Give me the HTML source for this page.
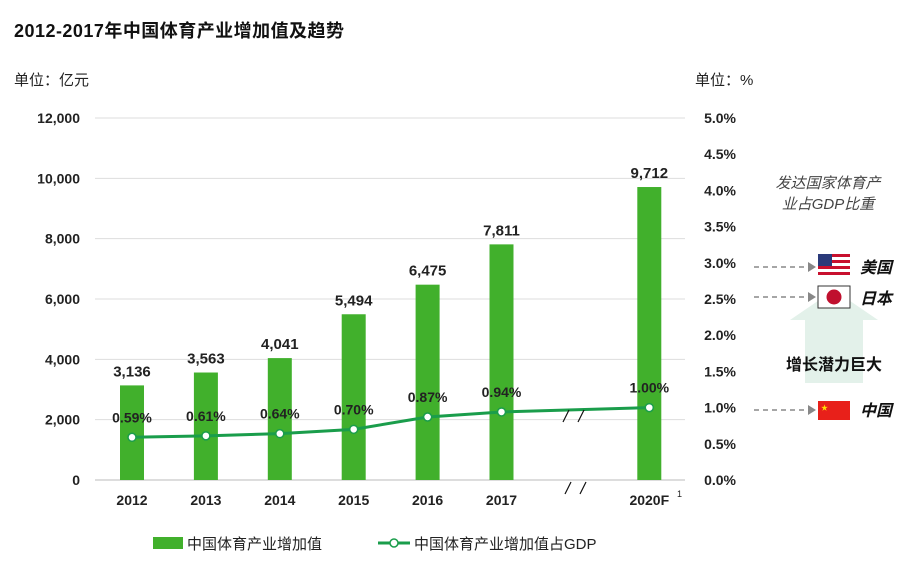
<!DOCTYPE html>
<html><head><meta charset="utf-8"><style>
body{margin:0;background:#fff;width:923px;height:570px;overflow:hidden;font-family:"Liberation Sans","Noto Sans CJK SC",sans-serif}
svg text{font-family:"Liberation Sans","Noto Sans CJK SC",sans-serif}
</style></head><body>
<svg width="923" height="570">
<text x="14" y="37" font-size="18" font-weight="bold" fill="#111" textLength="330">2012-2017年中国体育产业增加值及趋势</text>
<text x="14" y="85" font-size="15" fill="#222">单位：亿元</text>
<text x="695" y="85" font-size="15" fill="#222">单位：%</text>
<g id="grid"></g><g id="bars"></g><g id="line"></g><g id="labels"></g>
<g stroke="#111" stroke-width="1.2">
<line x1="563" y1="422" x2="569" y2="410"/><line x1="578" y1="422" x2="584" y2="410"/>
<line x1="565" y1="494" x2="571" y2="482"/><line x1="580" y1="494" x2="586" y2="482"/>
</g>
<text x="677" y="497" font-size="9" fill="#222">1</text>
<g>
<text x="828" y="188" font-size="15" font-style="italic" fill="#444" text-anchor="middle">发达国家体育产</text>
<text x="828" y="209" font-size="15" font-style="italic" fill="#444" text-anchor="middle">业占GDP比重</text>
<polygon points="805,383 805,320 790,320 834,290 878,320 863,320 863,383" fill="#e3f1ea"/>
<text x="834" y="370" font-size="16" font-weight="bold" fill="#111" text-anchor="middle">增长潜力巨大</text>
<g stroke="#888" stroke-width="1.5" stroke-dasharray="5,4" fill="none">
<line x1="754" y1="267" x2="808" y2="267"/><line x1="754" y1="297" x2="808" y2="297"/><line x1="754" y1="410" x2="808" y2="410"/></g>
<g fill="#888"><polygon points="808,262 816,267 808,272"/><polygon points="808,292 816,297 808,302"/><polygon points="808,405 816,410 808,415"/></g>
<g><rect x="818" y="254" width="32" height="23" fill="#fff"/>
<rect x="818" y="254" width="32" height="3" fill="#c8102e"/><rect x="818" y="260" width="32" height="3" fill="#c8102e"/><rect x="818" y="266" width="32" height="3" fill="#c8102e"/><rect x="818" y="272" width="32" height="3" fill="#c8102e"/><rect x="818" y="254" width="14" height="12" fill="#2a3a7a"/></g>
<g><rect x="818" y="286" width="32" height="22" fill="#fff" stroke="#333"/><circle cx="834" cy="297" r="7.5" fill="#c0102e"/></g>
<g><rect x="818" y="401" width="32" height="19" fill="#e8201a"/><text x="821" y="410" font-size="7" fill="#ffde00">★</text></g>
<text x="860" y="273" font-size="16" font-weight="bold" font-style="italic" fill="#111">美国</text>
<text x="860" y="304" font-size="16" font-weight="bold" font-style="italic" fill="#111">日本</text>
<text x="860" y="416" font-size="16" font-weight="bold" font-style="italic" fill="#111">中国</text>
</g>
<g>
<rect x="153" y="537" width="30" height="12" fill="#41b02c"/>
<text x="187" y="549" font-size="15" fill="#222">中国体育产业增加值</text>
<line x1="378" y1="543" x2="410" y2="543" stroke="#1a9d4b" stroke-width="3"/>
<circle cx="394" cy="543" r="4" fill="#fff" stroke="#1a9d4b" stroke-width="1.5"/>
<text x="414" y="549" font-size="15" fill="#222">中国体育产业增加值占GDP</text>
</g>
</svg>
<script>
const categories=["2012","2013","2014","2015","2016","2017","","2020F"];
const values=[3136,3563,4041,5494,6475,7811,null,9712];
const shares=[0.59,0.61,0.64,0.70,0.87,0.94,null,1.00];
const leftTicks=[0,2000,4000,6000,8000,10000,12000];
const rightTicks=[0,0.5,1,1.5,2,2.5,3,3.5,4,4.5,5];
const NS="http://www.w3.org/2000/svg";
const y0=480,y1=118,x0=95,step=73.9,bw=24;
const yL=v=>y0-(v/12000)*(y0-y1);
const yR=v=>y0-(v/5)*(y0-y1);
const xC=i=>132+i*step;
function mk(t,a,p){const e=document.createElementNS(NS,t);for(const k in a)e.setAttribute(k,a[k]);document.getElementById(p).appendChild(e);return e;}
leftTicks.forEach(t=>{
 const l=mk("line",{x1:x0,x2:685,y1:yL(t),y2:yL(t),stroke:t===0?"#bbb":"#ddd","stroke-width":1},"grid");
 
 
 const tx=mk("text",{x:80,y:yL(t)+5,"font-size":14,"font-weight":"bold","text-anchor":"end",fill:"#222"},"grid");tx.textContent=t.toLocaleString("en-US");
 
 
});
rightTicks.forEach(t=>{
 const tx=mk("text",{x:736,y:yR(t)+5,"font-size":14,"font-weight":"bold","text-anchor":"end",fill:"#222"},"grid");tx.textContent=t.toFixed(1)+"%";
 
 
});
categories.forEach((c,i)=>{
 if(c){const tx=mk("text",{x:xC(i),y:505,"font-size":14,"font-weight":"bold","text-anchor":"middle",fill:"#222"},"labels");tx.textContent=c;
 
 }
 if(values[i]==null)return;
 const r=mk("rect",{x:xC(i)-bw/2,y:yL(values[i]),width:bw,height:y0-yL(values[i]),fill:"#41b02c"},"bars");
 
 
 const vt=mk("text",{x:xC(i),y:yL(values[i])-9,"font-size":15,"font-weight":"bold","text-anchor":"middle",fill:"#222"},"labels");vt.textContent=values[i].toLocaleString("en-US");
 
 
});
const pts=[];shares.forEach((s,i)=>{if(s!=null)pts.push([xC(i),yR(s),s]);});
const pl=mk("polyline",{points:pts.map(p=>p[0]+","+p[1]).join(" "),fill:"none",stroke:"#1a9d4b","stroke-width":3},"line");


pts.forEach(p=>{
 const c=mk("circle",{cx:p[0],cy:p[1],r:4,fill:"#fff",stroke:"#1a9d4b","stroke-width":1.5},"line");
 
 
 const t=mk("text",{x:p[0],y:p[1]-15,"font-size":14,"font-weight":"bold","text-anchor":"middle",fill:"#222"},"labels");t.textContent=p[2].toFixed(2)+"%";
 
 
});
</script>
</body></html>
